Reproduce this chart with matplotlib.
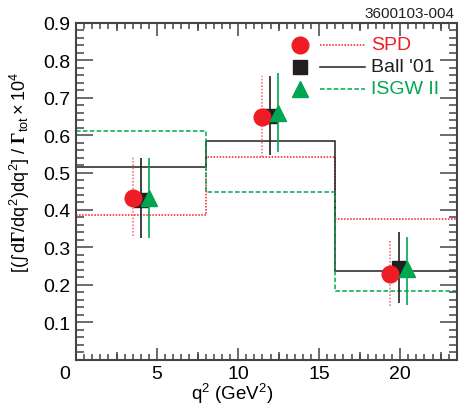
import matplotlib
matplotlib.use('Agg')
import matplotlib.pyplot as plt
from matplotlib.ticker import MultipleLocator
from matplotlib.lines import Line2D

plt.rcParams.update({'font.family': ['Liberation Sans', 'DejaVu Sans'], 'font.size': 14,
                     'mathtext.fontset': 'custom', 'mathtext.rm': 'Liberation Sans',
                     'mathtext.it': 'Liberation Sans', 'mathtext.bf': 'Liberation Serif:bold',
                     'mathtext.sf': 'DejaVu Sans'})

# model predictions, integrated over q^2 bins
bin_edges = [0, 8, 16, 24]
spd_bins = [0.386, 0.541, 0.375]
ball_bins = [0.514, 0.585, 0.238]
isgw_bins = [0.611, 0.447, 0.182]

# measured points (one per model), with low / high error ends
q2_spd = [3.5, 11.45, 19.4]
q2_ball = [4.0, 11.95, 19.9]
q2_isgw = [4.5, 12.45, 20.4]
spd_val = [0.433, 0.648, 0.230]
spd_lo = [0.329, 0.542, 0.142]
spd_hi = [0.542, 0.759, 0.318]
ball_val = [0.427, 0.650, 0.244]
ball_lo = [0.325, 0.547, 0.151]
ball_hi = [0.538, 0.759, 0.340]
isgw_val = [0.431, 0.659, 0.242]
isgw_lo = [0.325, 0.554, 0.145]
isgw_hi = [0.538, 0.766, 0.327]

x_ticks = [0, 5, 10, 15, 20]
x_ticklabels = ['', '5', '10', '15', '20']   # the 0 is drawn separately, nudged left
y_ticks = [0.1, 0.2, 0.3, 0.4, 0.5, 0.6, 0.7, 0.8, 0.9]

RED = '#ee1c25'
BLACK = '#231f20'
GREEN = '#00a651'


def errs(val, lo, hi):
    return [[v - l for v, l in zip(val, lo)], [h - v for v, h in zip(val, hi)]]


fig = plt.figure(figsize=(4.61, 4.06), dpi=100)
ax = fig.add_axes([0.165, 0.112, 0.826, 0.829])

ax.stairs(spd_bins, bin_edges, baseline=None, color=RED, lw=1.1, ls=(0, (1, 1)))
ax.stairs(ball_bins, bin_edges, baseline=None, color=BLACK, lw=1.1)
ax.stairs(isgw_bins, bin_edges, baseline=None, color=GREEN, lw=1.1, ls=(0, (3, 1.5)))

ax.errorbar(q2_ball, ball_val, yerr=errs(ball_val, ball_lo, ball_hi), fmt='s', ms=10,
            color=BLACK, ecolor=BLACK, elinewidth=1.2, capsize=0, zorder=3)
eb = ax.errorbar(q2_spd, spd_val, yerr=errs(spd_val, spd_lo, spd_hi), fmt='o', ms=12,
                 color=RED, ecolor='#f27c80', elinewidth=1.2, capsize=0, zorder=4)
eb[2][0].set_linestyle((0, (1, 1)))
ax.errorbar(q2_isgw, isgw_val, yerr=errs(isgw_val, isgw_lo, isgw_hi), fmt='^', ms=11,
            color=GREEN, ecolor=GREEN, elinewidth=1.2, capsize=0, zorder=5)

ax.set_xlim(0, 23.5)
ax.set_ylim(0, 0.9)
ax.set_xticks(x_ticks)
ax.set_xticklabels(x_ticklabels)
ax.xaxis.set_minor_locator(MultipleLocator(0.5))
ax.set_yticks(y_ticks)
ax.yaxis.set_minor_locator(MultipleLocator(0.02))
ax.tick_params(which='both', direction='in', top=True, right=True, color='#444444', width=1.1)
ax.tick_params(axis='y', which='major', length=12, pad=4)
ax.tick_params(axis='y', which='minor', length=6)
ax.tick_params(axis='x', which='major', length=9, pad=4)
ax.tick_params(axis='x', which='minor', length=4)
for sp in ax.spines.values():
    sp.set_linewidth(1.5)
    sp.set_color('#444444')

# medium ticks at the half-majors
for side in ['bottom', 'top']:
    sec = ax.secondary_xaxis(side)
    sec.set_xticks([2.5, 7.5, 12.5, 17.5, 22.5])
    sec.set_xticklabels([])
    sec.tick_params(direction='in', length=6, width=1.1, color='#444444')
    sec.spines[side].set_visible(False)

ax.annotate('0', xy=(x_ticks[0], 0), xycoords=('data', 'axes fraction'),
            xytext=(-8, -4), textcoords='offset points', ha='center', va='top', fontsize=14)

ax.set_xlabel('q$^2$ (GeV$^2$)', fontsize=13.5, va='bottom')
ax.xaxis.set_label_coords(0.41, -0.136)
ax.set_ylabel(r'$[(\mathsf{\int} d\mathbf{\Gamma}/dq^2)dq^2]\ /\ \mathbf{\Gamma}_{tot}\times10^4$',
              fontsize=13)
ax.yaxis.set_label_coords(-0.115, 0.56)

fig.text(0.985, 0.948, '3600103-004', ha='right', va='bottom', fontsize=11, color=BLACK)

# legend: marker, then line sample, then coloured label
rows = [('SPD', 'o', 12, RED, (0, (1, 1))), ("Ball '01", 's', 10, BLACK, '-'),
        ('ISGW II', '^', 11, GREEN, (0, (3, 1.5)))]
for i, (lab, mk, ms, col, ls) in enumerate(rows):
    yy = 0.935 - i * 0.065
    ax.plot([0.587], [yy], marker=mk, ms=ms, color=col, transform=ax.transAxes, clip_on=False)
    ax.add_line(Line2D([0.64, 0.76], [yy, yy], color=col, lw=1.1, ls=ls, transform=ax.transAxes))
    ax.text(0.775, yy, lab, color=col, fontsize=14, va='center', ha='left', transform=ax.transAxes)

fig.savefig('out.png', dpi=100)
